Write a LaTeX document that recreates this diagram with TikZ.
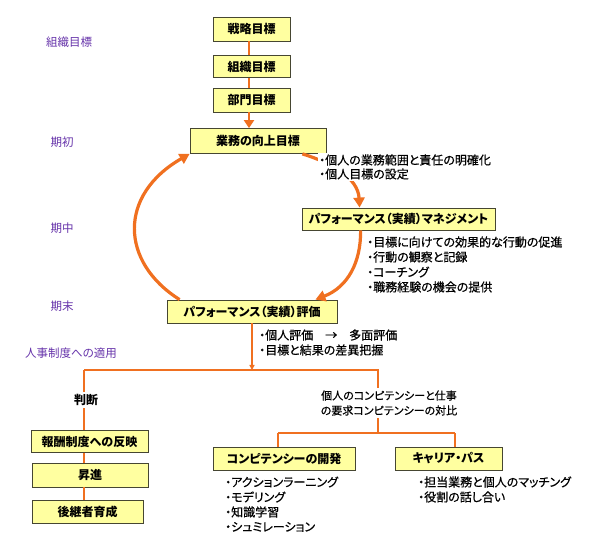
\documentclass[tikz,border=0pt]{standalone}
\usepackage{fontspec}
\setmainfont{Noto Sans CJK JP}[RawFeature=+palt]
\newfontfamily\lstfont{Noto Sans CJK JP}[RawFeature=+palt, FakeBold=0.6]
\usetikzlibrary{arrows.meta,calc}
\definecolor{boxfill}{RGB}{255,255,160}
\definecolor{boxline}{RGB}{70,70,50}
\definecolor{orng}{RGB}{240,112,32}
\definecolor{purp}{RGB}{102,51,170}
\tikzset{
  box/.style={draw=boxline, fill=boxfill, line width=0.8pt, inner sep=0pt,
    font=\fontsize{12}{13}\selectfont\bfseries},
  lbl/.style={text=purp, font=\fontsize{11.5}{13}\selectfont, inner sep=0pt},
  lst/.style={anchor=west, font=\lstfont\fontsize{12}{13}\selectfont, inner sep=1pt, fill=white},
  thick conn/.style={draw=orng, line width=2.8pt},
  tree/.style={draw=orng, line width=1.8pt},
  bigarrow/.style={draw=orng, line width=3.2pt, -{Triangle[length=10pt,width=11pt]}},
}
\begin{document}
\begin{tikzpicture}[x=1pt,y=-1pt]
\useasboundingbox (0,0) rectangle (600,545);
\fill[white] (0,0) rectangle (600,545);

% left labels
\node[lbl] (lo) at (69,42) {組織目標};
\node[lbl] (lki) at (62,142) {期初};
\node[lbl] (lnaka) at (62,228) {期中};
\node[lbl] (lmatsu) at (62,306) {期末};
\node[lbl] (ljin) at (71,353) {人事制度への適用};

% top boxes
\node[box, minimum width=77pt, minimum height=24pt] (s1) at (251.5,29) {戦略目標};
\node[box, minimum width=77pt, minimum height=22pt] (s2) at (251.5,66.5) {組織目標};
\node[box, minimum width=77pt, minimum height=24pt] (s3) at (251.5,100) {部門目標};
\node[box, minimum width=136pt, minimum height=25pt] (g) at (258,141) {業務の向上目標};
\node[box, minimum width=193pt, minimum height=22pt] (m) at (398.5,219) {パフォーマンス（実績）マネジメント};
\node[box, minimum width=170pt, minimum height=23pt] (e) at (252,311.5) {パフォーマンス（実績）評価};

\draw[thick conn] (s1.south -| 249,0) -- (s2.north -| 249,0);
\draw[thick conn] (s2.south -| 249,0) -- (s3.north -| 249,0);
\draw[draw=orng, line width=2.8pt, -{Triangle[length=8pt,width=10pt]}] (s3.south -| 249,0) -- (g.north -| 249,0);

% cycle arrows
\draw[bigarrow] ($(e.north west)+(13,0)$) .. controls (120,262) and (118,195) .. (g.south west);
\draw[bigarrow] ($(g.south east)+(-24,0)$) .. controls (332,163) and (358,178) .. ($(m.north west)+(58,0)$);
\draw[bigarrow] ($(m.south west)+(59,0)$) .. controls (361,262) and (348,287) .. ($(e.north east)+(-22,0)$);

% lists
\node[lst] (a1) at (318,160) {・個人の業務範囲と責任の明確化};
\node[lst] (a2) at (318,174) {・個人目標の設定};
\node[lst, fill=none] (b1) at (366,242) {・目標に向けての効果的な行動の促進};
\node[lst, fill=none] (b2) at (366,257) {・行動の観察と記録};
\node[lst, fill=none] (b3) at (366,272) {・コーチング};
\node[lst, fill=none] (b4) at (366,287) {・職務経験の機会の提供};
\node[lst] (c1) at (258,335) {・個人評価　→　多面評価};
\node[lst] (c2) at (258,350) {・目標と結果の差異把握};

% tree
\coordinate (j0) at (e.south |- 0,370);
\coordinate (jl) at (84,370);
\coordinate (jr) at (378,370);
\coordinate (jb) at (378,433);
\coordinate (bl) at (278,433);
\coordinate (br) at (455,433);
\draw[draw=orng, line width=1.3pt, -{Triangle[length=5pt,width=5pt]}] (e.south) -- (j0);
\draw[tree] (jl) -- (jr) -- (jb);
\draw[tree] (bl) -- (br);

\node[box, minimum width=117pt, minimum height=22pt] (r1) at (89.5,441.5) {報酬制度への反映};
\node[box, minimum width=116pt, minimum height=24pt] (r2) at (90,475) {昇進};
\node[box, minimum width=111pt, minimum height=23pt] (r3) at (87.5,511.5) {後継者育成};
\node[box, minimum width=142pt, minimum height=23pt] (c) at (284,458.5) {コンピテンシーの開発};
\node[box, minimum width=107pt, minimum height=23pt] (k) at (448.5,458.5) {キャリア・パス};

\draw[tree] (jl) -- (jl |- r1.north);
\draw[tree] (r1.south -| 84,0) -- (r2.north -| 84,0);
\draw[tree] (r2.south -| 84,0) -- (r3.north -| 84,0);
\draw[tree] (bl) -- (bl |- c.north);
\draw[tree] (br) -- (br |- k.north);

\node[fill=white, inner sep=2pt, font=\fontsize{12}{13}\selectfont\bfseries] (hd) at (86,400) {判断};
\node[fill=white, inner sep=2pt, align=center, font=\lstfont\fontsize{11}{15}\selectfont] (taihi) at (389,403) {個人のコンピテンシーと仕事\\の要求コンピテンシーの対比};

\node[lst, fill=none] (d1) at (224,482) {・アクションラーニング};
\node[lst, fill=none] (d2) at (224,497) {・モデリング};
\node[lst, fill=none] (d3) at (224,512) {・知識学習};
\node[lst, fill=none] (d4) at (224,527) {・シュミレーション};
\node[lst, fill=none] (e1) at (417,482) {・担当業務と個人のマッチング};
\node[lst, fill=none] (e2) at (417,497) {・役割の話し合い};
\end{tikzpicture}
\end{document}
